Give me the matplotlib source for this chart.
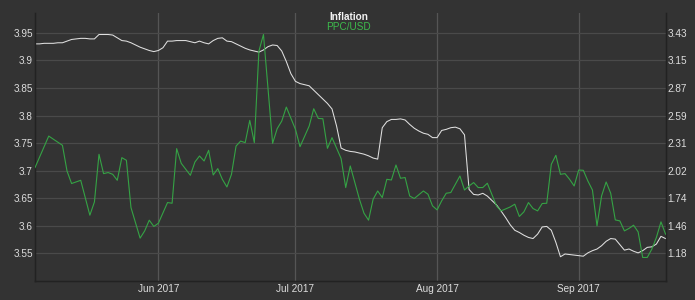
import matplotlib

matplotlib.use("Agg")
import matplotlib.pyplot as plt
import matplotlib.dates as mdates
import numpy as np
import pandas as pd


START = "2017-05-05"
END = "2017-09-20"

INFLATION = [
    3.930, 3.930, 3.931, 3.931, 3.931, 3.932, 3.932, 3.935, 3.938, 3.939,
    3.940, 3.940, 3.939, 3.939, 3.947, 3.947, 3.947, 3.946, 3.941, 3.936,
    3.935, 3.932, 3.928, 3.924, 3.921, 3.918, 3.916, 3.918, 3.923, 3.935,
    3.935, 3.936, 3.936, 3.936, 3.934, 3.932, 3.935, 3.932, 3.930, 3.936,
    3.940, 3.941, 3.935, 3.934, 3.930, 3.926, 3.922, 3.919, 3.917, 3.915,
    3.919, 3.925, 3.928, 3.927, 3.917, 3.898, 3.876, 3.862, 3.858, 3.856,
    3.854, 3.846, 3.838, 3.830, 3.822, 3.812, 3.781, 3.741, 3.737, 3.735,
    3.734, 3.732, 3.730, 3.727, 3.723, 3.721, 3.778, 3.789, 3.793, 3.793,
    3.794, 3.792, 3.784, 3.777, 3.772, 3.768, 3.766, 3.760, 3.760, 3.773,
    3.775, 3.778, 3.779, 3.776, 3.765, 3.666, 3.657, 3.656, 3.659, 3.654,
    3.646, 3.638, 3.627, 3.615, 3.602, 3.592, 3.588, 3.583, 3.579, 3.577,
    3.585, 3.598, 3.599, 3.592, 3.570, 3.544, 3.549, 3.548, 3.547, 3.546,
    3.545, 3.551, 3.555, 3.558, 3.564, 3.572, 3.577, 3.576, 3.566, 3.556,
    3.558, 3.554, 3.551, 3.555, 3.561, 3.562, 3.567, 3.581, 3.577,
]

PPC_USD = [
    2.056, 2.163, 2.269, 2.377, 2.346, 2.314, 2.283, 2.021, 1.893, 1.910,
    1.926, 1.748, 1.570, 1.705, 2.191, 1.994, 2.005, 1.987, 1.926, 2.157,
    2.130, 1.648, 1.493, 1.336, 1.410, 1.519, 1.455, 1.488, 1.593, 1.699,
    1.692, 2.249, 2.099, 2.038, 1.977, 2.113, 2.174, 2.123, 2.232, 1.980,
    2.045, 1.936, 1.858, 1.987, 2.275, 2.326, 2.310, 2.537, 2.310, 3.243,
    3.413, 2.858, 2.303, 2.453, 2.530, 2.673, 2.560, 2.446, 2.269, 2.374,
    2.479, 2.656, 2.557, 2.554, 2.252, 2.361, 2.254, 2.147, 1.852, 2.072,
    1.903, 1.733, 1.590, 1.519, 1.733, 1.817, 1.750, 1.936, 1.929, 2.082,
    1.947, 1.954, 1.766, 1.740, 1.779, 1.817, 1.784, 1.665, 1.624, 1.716,
    1.794, 1.801, 1.886, 1.970, 1.827, 1.868, 1.903, 1.852, 1.852, 1.896,
    1.781, 1.665, 1.614, 1.634, 1.654, 1.682, 1.557, 1.604, 1.699, 1.638,
    1.614, 1.689, 1.692, 2.089, 2.181, 1.987, 1.994, 1.936, 1.868, 2.031,
    2.028, 1.919, 1.827, 1.461, 1.766, 1.909, 1.794, 1.522, 1.512, 1.410,
    1.435, 1.468, 1.400, 1.139, 1.139, 1.224, 1.343, 1.502, 1.377,
]

LEFT_TICKS = [3.55, 3.60, 3.65, 3.70, 3.75, 3.80, 3.85, 3.90, 3.95]
LEFT_TICK_LABELS = ["3.55", "3.6", "3.65", "3.7", "3.75", "3.8", "3.85", "3.9", "3.95"]
RIGHT_TICK_LABELS = ["1.18", "1.46", "1.74", "2.02", "2.31", "2.59", "2.87", "3.15", "3.43"]

BG = "#333333"
GRID = "#4a4a4a"
TEXT = "#dddddd"
WHITE_LINE = "#e0e0e0"
GREEN_LINE = "#35a345"
GREEN_TEXT = "#3dbb4c"


def to_right(v):
    # right axis is a linear rescale of the left one (3.55 -> 1.18, 3.95 -> 3.43)
    return 1.18 + (v - 3.55) / 0.05 * 0.28125


def main():
    plt.rcParams.update({"font.family": "Liberation Sans", "font.size": 7})
    dates = pd.date_range(START, END, freq="D")

    fig = plt.figure(figsize=(6.95, 3.0), dpi=100, facecolor=BG)
    ax = fig.add_axes([0.0504, 0.0633, 0.9072, 0.8934])
    ax.set_facecolor(BG)
    ax2 = ax.twinx()

    ax.plot(dates, INFLATION, color=WHITE_LINE, linewidth=0.75, zorder=3)
    ax2.plot(dates, PPC_USD, color=GREEN_LINE, linewidth=0.8, zorder=3)

    ylo, yhi = 3.5, 3.986
    ax.set_ylim(ylo, yhi)
    ax2.set_ylim(to_right(ylo), to_right(yhi))
    ax.set_xlim(dates[0], dates[-1])

    ax.set_yticks(LEFT_TICKS)
    ax.set_yticklabels(LEFT_TICK_LABELS)
    ax2.set_yticks([to_right(v) for v in LEFT_TICKS])
    ax2.set_yticklabels(RIGHT_TICK_LABELS)

    ax.xaxis.set_major_locator(mdates.MonthLocator(bymonthday=1))
    ax.xaxis.set_major_formatter(mdates.DateFormatter("%b %Y"))

    ax.grid(axis="y", color=GRID, linewidth=0.9)
    ax.grid(axis="x", color="#555555", linewidth=0.9)
    ax.set_axisbelow(True)

    for a in (ax, ax2):
        a.tick_params(colors=TEXT, length=0, labelsize=7.2, pad=2)
        for side, spine in a.spines.items():
            spine.set_color("#222222")
            spine.set_linewidth(0.9)
            spine.set_visible(side in ("left", "right", "bottom"))
    ax.tick_params(axis="y", pad=1.5)
    ax2.tick_params(axis="y", pad=1.5)
    ax.tick_params(axis="x", pad=2.5)

    fig.text(0.502, 0.943, "Inflation", color="#f2f2f2", fontsize=7.2,
             fontweight="bold", ha="center", va="center")
    fig.text(0.502, 0.910, "PPC/USD", color=GREEN_TEXT, fontsize=7.2,
             ha="center", va="center")

    fig.savefig("out.png", dpi=100, facecolor=BG)
    plt.close(fig)


if __name__ == "__main__":
    main()
